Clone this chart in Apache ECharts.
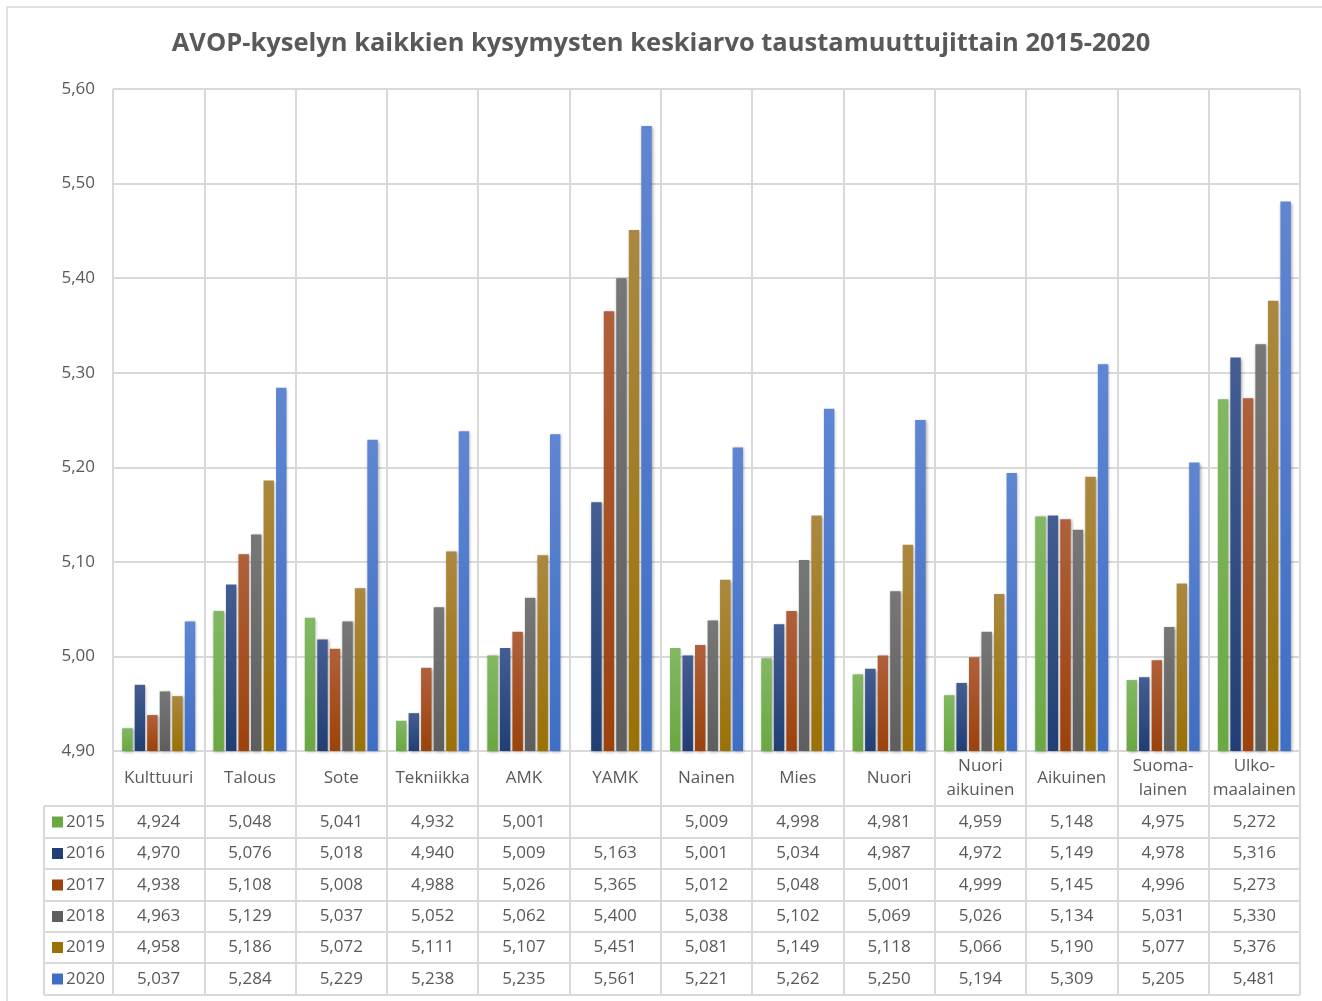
<!DOCTYPE html>
<html>
<head>
<meta charset="utf-8">
<script src="https://cdn.jsdelivr.net/npm/echarts@6/dist/echarts.min.js"></script>
<style>
  html, body { margin: 0; padding: 0; background: #fff; }
  #chart { width: 1322px; height: 1001px; }
</style>
</head>
<body>
<div id="chart"></div>
<script>
const categories = ["Kulttuuri", "Talous", "Sote", "Tekniikka", "AMK", "YAMK", "Nainen", "Mies", "Nuori",
  "Nuori\naikuinen", "Aikuinen", "Suoma-\nlainen", "Ulko-\nmaalainen"];
const years = ["2015", "2016", "2017", "2018", "2019", "2020"];
const v2015 = [4.924, 5.048, 5.041, 4.932, 5.001, null, 5.009, 4.998, 4.981, 4.959, 5.148, 4.975, 5.272];
const v2016 = [4.970, 5.076, 5.018, 4.940, 5.009, 5.163, 5.001, 5.034, 4.987, 4.972, 5.149, 4.978, 5.316];
const v2017 = [4.938, 5.108, 5.008, 4.988, 5.026, 5.365, 5.012, 5.048, 5.001, 4.999, 5.145, 4.996, 5.273];
const v2018 = [4.963, 5.129, 5.037, 5.052, 5.062, 5.400, 5.038, 5.102, 5.069, 5.026, 5.134, 5.031, 5.330];
const v2019 = [4.958, 5.186, 5.072, 5.111, 5.107, 5.451, 5.081, 5.149, 5.118, 5.066, 5.190, 5.077, 5.376];
const v2020 = [5.037, 5.284, 5.229, 5.238, 5.235, 5.561, 5.221, 5.262, 5.250, 5.194, 5.309, 5.205, 5.481];
const yTicks = { min: 4.9, max: 5.6, interval: 0.1 };

const values = [v2015, v2016, v2017, v2018, v2019, v2020];
const colors = ["#6aa842", "#213f74", "#9c420b", "#5e5e5e", "#9a7104", "#3f6ec6"];
const tops = ["#82b862", "#445d92", "#b0603a", "#777777", "#ab8840", "#5f86d2"];

const textColor = "#595959";
const lineColor = "#d9d9d9";
const font = "'Open Sans', sans-serif";
const fontSize = 17;

// taulukon mitat
const plotBottom = 751;
const tableLeft = 44;
const tableRight = 1300;
const rowLines = [806, 838, 869, 901, 932, 963, 995];

function fmt(v, d) {
  return v == null ? "" : v.toFixed(d).replace(".", ",");
}

var myChart = echarts.init(document.getElementById("chart"));

const series = years.map((y, i) => ({
  name: y,
  type: "bar",
  data: values[i],
  barGap: "20%",
  barCategoryGap: "20%",
  itemStyle: {
    color: new echarts.graphic.LinearGradient(0, 0, 0, 1, [
      { offset: 0, color: tops[i] },
      { offset: 1, color: colors[i] },
    ]),
    shadowColor: "rgba(0,0,0,0.35)",
    shadowBlur: 3,
    shadowOffsetX: 1,
    shadowOffsetY: 1,
  },
}));

// vuosirivit omina x-akseleinaan
const rowAxes = years.map((y, i) => ({
  type: "category",
  position: "bottom",
  offset: (rowLines[i] + rowLines[i + 1]) / 2 - plotBottom,
  data: values[i].map((v) => fmt(v, 3)),
  axisLine: { show: false },
  axisTick: { show: false },
  splitLine: { show: false },
  axisLabel: {
    interval: 0,
    margin: 0,
    verticalAlign: "middle",
    color: textColor,
    fontSize: fontSize,
    fontFamily: font,
  },
}));

const graphics = [
  {
    type: "rect",
    shape: { x: 7, y: 7, width: 1330, height: 1010 },
    style: { fill: null, stroke: lineColor, lineWidth: 1.5 },
    silent: true,
  },
  {
    type: "line",
    shape: { x1: tableLeft, y1: rowLines[0], x2: tableLeft, y2: rowLines[rowLines.length - 1] },
    style: { stroke: lineColor, lineWidth: 2 },
    silent: true,
  },
];
rowLines.forEach((y) => {
  graphics.push({
    type: "line",
    shape: { x1: tableLeft, y1: y, x2: tableRight, y2: y },
    style: { stroke: lineColor, lineWidth: 2 },
    silent: true,
  });
});
years.forEach((y, i) => {
  const cy = (rowLines[i] + rowLines[i + 1]) / 2;
  graphics.push({
    type: "rect",
    shape: { x: 52, y: cy - 5.5, width: 11, height: 11 },
    style: { fill: colors[i] },
    silent: true,
  });
  graphics.push({
    type: "text",
    x: 66,
    y: cy,
    style: { text: y, fill: textColor, fontSize: fontSize, fontFamily: font, verticalAlign: "middle" },
    silent: true,
  });
});

const option = {
  backgroundColor: "#fff",
  animation: false,
  title: {
    text: "AVOP-kyselyn kaikkien kysymysten keskiarvo taustamuuttujittain 2015-2020",
    left: "center",
    top: 26,
    textStyle: { color: textColor, fontSize: 25.5, fontWeight: "bold", fontFamily: font },
  },
  grid: { left: 113, right: 22, top: 89, bottom: 250 },
  xAxis: [
    {
      type: "category",
      data: categories,
      position: "bottom",
      axisLine: { show: true, lineStyle: { color: lineColor, width: 2 } },
      axisTick: { show: true, interval: 0, length: rowLines[rowLines.length - 1] - plotBottom, lineStyle: { color: lineColor, width: 2 } },
      splitLine: { show: true, interval: 0, lineStyle: { color: lineColor, width: 2 } },
      axisLabel: {
        interval: 0,
        margin: (plotBottom + rowLines[0]) / 2 - plotBottom,
        verticalAlign: "middle",
        color: textColor,
        fontSize: fontSize,
        lineHeight: 24,
        fontFamily: font,
      },
    },
  ].concat(rowAxes),
  yAxis: {
    type: "value",
    min: yTicks.min,
    max: yTicks.max,
    interval: yTicks.interval,
    axisLine: { show: false },
    axisTick: { show: false },
    splitLine: { lineStyle: { color: lineColor, width: 2 } },
    axisLabel: {
      margin: 18,
      color: textColor,
      fontSize: fontSize,
      fontFamily: font,
      formatter: (v) => fmt(v, 2),
    },
  },
  series: series,
  graphic: graphics,
};

myChart.setOption(option);
</script>
</body>
</html>
